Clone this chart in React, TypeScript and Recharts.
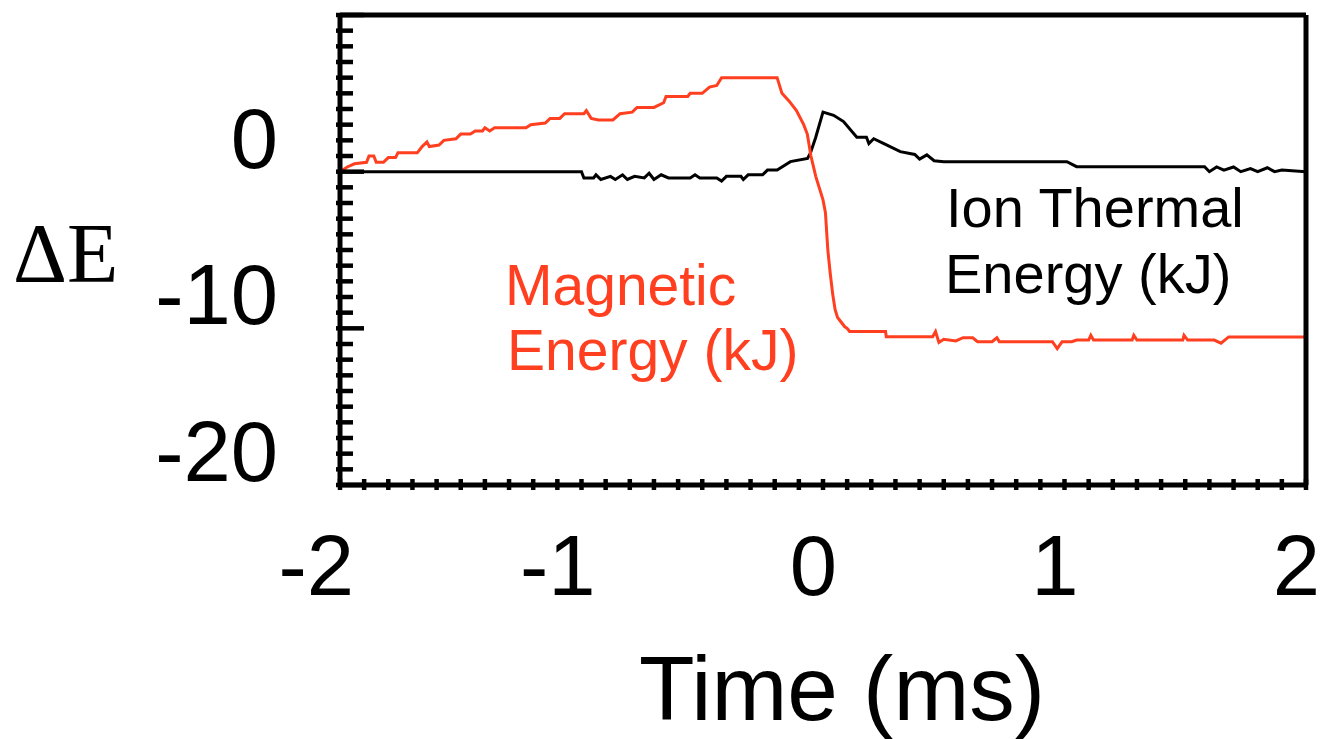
import React from 'react';
import { LineChart, Line, XAxis, YAxis } from 'recharts';

// magnetic energy change (kJ)
const magneticTime = [
  -2.0, -1.97, -1.94, -1.89, -1.88, -1.86, -1.85, -1.82, -1.8, -1.77, -1.76, -1.68, -1.66, -1.64, -1.63,
  -1.59, -1.57, -1.52, -1.5, -1.46, -1.44, -1.41, -1.4, -1.38, -1.36, -1.23, -1.21, -1.15, -1.13, -1.09,
  -1.07, -0.99, -0.98, -0.96, -0.93, -0.87, -0.84, -0.79, -0.77, -0.7, -0.66, -0.65, -0.56, -0.55, -0.5,
  -0.47, -0.44, -0.42, -0.19, -0.17, -0.14, -0.11, -0.08, -0.065, -0.05, -0.03, 0.0, 0.01, 0.02, 0.03,
  0.04, 0.05, 0.06, 0.07, 0.09, 0.1, 0.11, 0.259, 0.262, 0.454, 0.466, 0.48, 0.5, 0.55, 0.58, 0.62, 0.64,
  0.7, 0.72, 0.73, 0.95, 0.97, 0.99, 1.03, 1.05, 1.1, 1.109, 1.12, 1.28, 1.287, 1.3, 1.49, 1.495, 1.51,
  1.58, 1.62, 1.648, 1.68, 2.0,
];
const magneticEnergy = [
  0.0, 0.3, 0.5, 0.6, 1.0, 1.0, 0.6, 0.6, 0.9, 0.9, 1.2, 1.2, 1.6, 1.9, 1.6,
  1.7, 2.0, 2.1, 2.4, 2.4, 2.6, 2.6, 2.8, 2.6, 2.8, 2.8, 3.0, 3.1, 3.4, 3.4,
  3.7, 3.7, 3.9, 3.4, 3.3, 3.3, 3.7, 3.8, 4.1, 4.1, 4.4, 4.8, 4.8, 5.0, 5.0,
  5.4, 5.5, 6.0, 6.0, 5.0, 4.5, 3.9, 3.0, 2.4, 1.0, -0.3, -1.8, -2.6, -5.0, -6.5,
  -7.8, -8.8, -9.3, -9.5, -9.9, -10.0, -10.2, -10.2, -10.53, -10.53, -10.2, -10.9, -10.7, -10.8, -10.6, -10.6, -10.85,
  -10.85, -10.6, -10.85, -10.85, -11.3, -10.85, -10.85, -10.75, -10.75, -10.45, -10.75, -10.75, -10.45, -10.75, -10.75, -10.45, -10.75,
  -10.75, -10.75, -10.95, -10.55, -10.55,
];

// ion thermal energy change (kJ)
const ionTime = [
  -2.0, -1.0, -0.99, -0.95, -0.94, -0.92, -0.88, -0.86, -0.83, -0.81, -0.78, -0.74, -0.72, -0.7, -0.67,
  -0.64, -0.55, -0.53, -0.51, -0.44, -0.42, -0.4, -0.34, -0.33, -0.31, -0.25, -0.23, -0.19, -0.16, -0.135,
  -0.064, -0.052, -0.031, 0.0, 0.044, 0.085, 0.14, 0.18, 0.19, 0.21, 0.25, 0.32, 0.38, 0.4, 0.43, 0.46,
  0.5, 1.01, 1.05, 1.58, 1.6, 1.63, 1.66, 1.7, 1.73, 1.77, 1.8, 1.84, 1.87, 1.9, 2.0,
];
const ionEnergy = [
  0.0, 0.0, -0.4, -0.4, -0.2, -0.5, -0.3, -0.5, -0.2, -0.5, -0.3, -0.4, -0.1, -0.5, -0.2,
  -0.4, -0.4, -0.2, -0.4, -0.4, -0.6, -0.3, -0.3, -0.5, -0.2, -0.2, 0.1, 0.1, 0.4, 0.64,
  0.85, 1.2, 2.15, 3.8, 3.6, 3.2, 2.2, 2.2, 1.8, 2.1, 1.8, 1.28, 1.1, 0.8, 1.07, 0.7,
  0.64, 0.64, 0.32, 0.32, 0.0, 0.3, 0.1, 0.3, 0.0, 0.2, 0.0, 0.25, 0.0, 0.1, 0.0,
];

const xMinorTicks = Array.from({ length: 41 }, (_, i) => Number((-2 + i * 0.1).toFixed(1)));
const xLabelTicks = [-2, -1, 0, 1, 2];
const xTopTicks = [-1, 0, 1];
const yMinorTicks = Array.from({ length: 31 }, (_, i) => 10 - i);
const yLabelTicks = [0, -10, -20];

const RED = '#ff3f1f';
const SANS = '"Liberation Sans", Arial, Helvetica, sans-serif';
const SERIF = '"Liberation Serif", "Times New Roman", serif';

const magneticData = magneticTime.map((t, i) => ({ t, e: magneticEnergy[i] }));
const ionData = ionTime.map((t, i) => ({ t, e: ionEnergy[i] }));

const BottomTick = (props: any) => {
  const { x, y, payload } = props;
  const v = payload.value;
  return (
    <g>
      <line x1={x} x2={x} y1={y - 6} y2={y + 5} stroke="#000" strokeWidth={4.5} />
      {xLabelTicks.includes(v) && (
        <text x={x + 14} y={y + 110} textAnchor="end" fontSize={85} fontFamily={SANS} fill="#000">
          {v}
        </text>
      )}
    </g>
  );
};

const TopTick = (props: any) => {
  const { x, y } = props;
  return <line x1={x} x2={x} y1={y - 3} y2={y + 14} stroke="#000" strokeWidth={4.5} />;
};

const LeftTick = (props: any) => {
  const { x, y, payload } = props;
  const v = payload.value;
  const major = v % 10 === 0;
  return (
    <g>
      <line x1={x - 4} x2={x + (major ? 24 : 13)} y1={y} y2={y} stroke="#000" strokeWidth={4.5} />
      {yLabelTicks.includes(v) && (
        <text x={x - 62} y={y - 4} textAnchor="end" fontSize={85} fontFamily={SANS} fill="#000">
          {v}
        </text>
      )}
    </g>
  );
};

const RightTick = (props: any) => {
  const { x, y, payload } = props;
  const major = payload.value % 10 === 0;
  return <line x1={x + 4} x2={x - (major ? 24 : 13)} y1={y} y2={y} stroke="#000" strokeWidth={4.5} />;
};

const axisLine = { stroke: '#000', strokeWidth: 5 };

export default function App() {
  return (
    <div style={{ position: 'absolute', left: 0, top: 0, width: 1321, height: 739, background: '#fff' }}>
      <LineChart width={1321} height={739} margin={{ top: 14, right: 14, bottom: 253, left: 339 }}>
        <XAxis
          xAxisId="b"
          dataKey="t"
          type="number"
          domain={[-2, 2]}
          ticks={xMinorTicks}
          interval={0}
          height={1}
          tickSize={0}
          tickMargin={0}
          tickLine={false}
          axisLine={axisLine}
          tick={<BottomTick />}
        />
        <XAxis
          xAxisId="t"
          orientation="top"
          dataKey="t"
          type="number"
          domain={[-2, 2]}
          ticks={xTopTicks}
          interval={0}
          height={1}
          tickSize={0}
          tickMargin={0}
          tickLine={false}
          axisLine={axisLine}
          tick={<TopTick />}
        />
        <YAxis
          yAxisId="l"
          type="number"
          domain={[-20, 10]}
          ticks={yMinorTicks}
          interval={0}
          width={1}
          tickSize={0}
          tickMargin={0}
          tickLine={false}
          axisLine={axisLine}
          tick={<LeftTick />}
        />
        <YAxis
          yAxisId="r"
          orientation="right"
          type="number"
          domain={[-20, 10]}
          ticks={yMinorTicks}
          interval={0}
          width={1}
          tickSize={0}
          tickMargin={0}
          tickLine={false}
          axisLine={axisLine}
          tick={<RightTick />}
        />
        <Line
          xAxisId="b"
          yAxisId="l"
          data={ionData}
          dataKey="e"
          type="linear"
          stroke="#000"
          strokeWidth={3}
          dot={false}
          isAnimationActive={false}
        />
        <Line
          xAxisId="b"
          yAxisId="l"
          data={magneticData}
          dataKey="e"
          type="linear"
          stroke={RED}
          strokeWidth={3}
          dot={false}
          isAnimationActive={false}
        />
      </LineChart>
      <svg
        width={1321}
        height={739}
        style={{ position: 'absolute', left: 0, top: 0, pointerEvents: 'none' }}
      >
        <text x={13} y={282} fontSize={84} fontFamily={SERIF} fill="#000">ΔE</text>
        <text x={505} y={305} fontSize={57} fontFamily={SANS} fill={RED}>Magnetic</text>
        <text x={507} y={370} fontSize={57} fontFamily={SANS} fill={RED}>Energy (kJ)</text>
        <text x={946} y={227} fontSize={56} fontFamily={SANS} fill="#000">Ion Thermal</text>
        <text x={945} y={293} fontSize={56} fontFamily={SANS} fill="#000">Energy (kJ)</text>
        <text x={842} y={720} textAnchor="middle" fontSize={91} fontFamily={SANS} fill="#000">Time (ms)</text>
      </svg>
    </div>
  );
}
